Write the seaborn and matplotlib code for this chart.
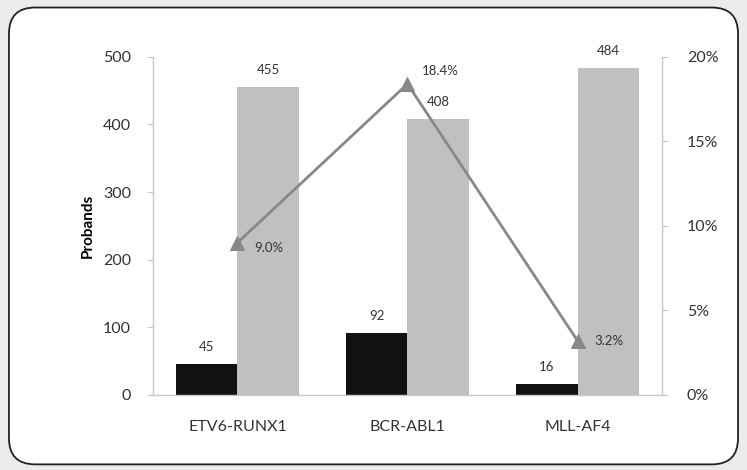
"""
Probands per fusion gene: positive vs negative counts with percentage line.
"""

import pandas as pd
import numpy as np
import matplotlib.pyplot as plt
import seaborn as sns
from matplotlib.patches import FancyBboxPatch
from matplotlib.ticker import FuncFormatter

# ----------------------------------------------------------------------------
# Data
# ----------------------------------------------------------------------------
genes = ['ETV6-RUNX1', 'BCR-ABL1', 'MLL-AF4']
positive = [45, 92, 16]
negative = [455, 408, 484]
percent = [9.0, 18.4, 3.2]

df = pd.DataFrame({
    'gene': genes * 2,
    'count': positive + negative,
    'group': ['Positive'] * 3 + ['Negative'] * 3,
})

sns.set_style('white')
plt.rcParams['font.family'] = ['Lato', 'DejaVu Sans']
TXT = '#333333'

fig = plt.figure(figsize=(7.47, 4.70), dpi=100, facecolor='#ececec')
frame = FancyBboxPatch((0.012, 0.012), 0.976, 0.972, transform=fig.transFigure,
                       boxstyle='round,pad=0,rounding_size=0.035',
                       facecolor='white', edgecolor='#222222', lw=1.3,
                       mutation_aspect=747 / 470, zorder=-10)
fig.patches.append(frame)

ax = fig.add_axes([0.205, 0.16, 0.681, 0.719])
ax.set_facecolor('none')
sns.barplot(data=df, x='gene', y='count', hue='group', ax=ax,
            palette={'Positive': '#111111', 'Negative': '#c0c0c0'},
            width=0.72, gap=0, saturation=1, linewidth=0, legend=False)

for cont in ax.containers:
    ax.bar_label(cont, padding=8, fontsize=9.5, color=TXT)

ax.set_ylim(0, 500)
ax.set_yticks(np.arange(0, 501, 100))
ax.set_xlabel('')
ax.set_ylabel('Probands', fontsize=11, fontweight='bold', color='black', labelpad=6)
ax.tick_params(axis='y', left=True, length=4, width=0.8, color='#c8c8c8',
               labelsize=11.5, labelcolor=TXT, pad=12)
ax.tick_params(axis='x', bottom=False, labelsize=11.5, labelcolor=TXT, pad=15)
for side in ['top', 'right']:
    ax.spines[side].set_visible(False)
for side in ['left', 'bottom']:
    ax.spines[side].set_color('#c8c8c8')
    ax.spines[side].set_linewidth(1.0)

# secondary axis with percentage line
ax2 = ax.twinx()
sns.lineplot(x=np.arange(len(genes)), y=percent, ax=ax2, color='#888888',
             lw=2, marker='^', markersize=10, markeredgecolor='#888888')
ax2.set_ylim(0, 20)
ax2.set_yticks(np.arange(0, 21, 5))
ax2.yaxis.set_major_formatter(FuncFormatter(lambda v, p: f'{v:.0f}%'))
ax2.tick_params(axis='y', right=True, length=4, width=0.8, color='#c8c8c8',
                labelsize=11.5, labelcolor=TXT, pad=14)
for side in ['top', 'left', 'bottom']:
    ax2.spines[side].set_visible(False)
ax2.spines['right'].set_color('#c8c8c8')
ax2.spines['right'].set_linewidth(1.0)

offsets = [(12, -4), (10, 9), (12, 0)]
for i, (p, off) in enumerate(zip(percent, offsets)):
    ax2.annotate(f'{p:.1f}%', (i, p), xytext=off, textcoords='offset points',
                 fontsize=9.5, color=TXT, va='center', ha='left')

plt.savefig('out.png', dpi=100, facecolor=fig.get_facecolor())
plt.close()
